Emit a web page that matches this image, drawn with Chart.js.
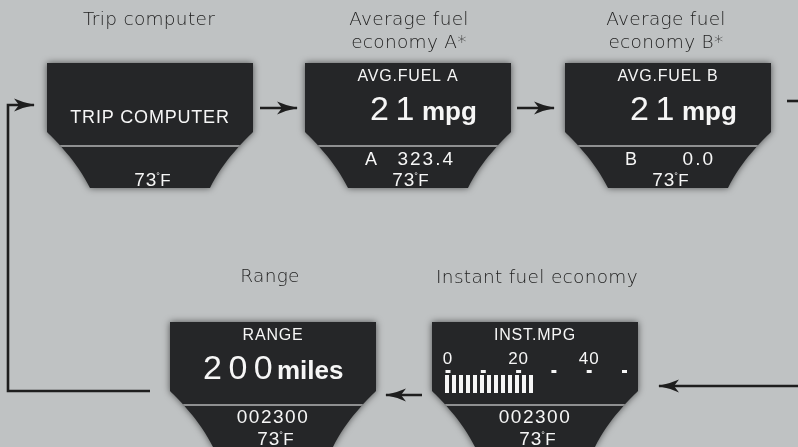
<!DOCTYPE html>
<html lang="en">
<head>
<meta charset="UTF-8">
<title>Trip computer display modes</title>
<script src="https://cdn.jsdelivr.net/npm/chart.js"></script>
<style>
    html, body { margin: 0; padding: 0; background: #bfc2c3; }
    canvas { display: block; }
</style>
</head>
<body>
<canvas id="diagram" width="798" height="447"></canvas>
<script>
    // screen contents, in display order
    const captions = [['Trip computer'], ['Average fuel', 'economy A*'], ['Average fuel', 'economy B*'], ['Range'], ['Instant fuel economy']];
    const headings = ['TRIP COMPUTER', 'AVG.FUEL A', 'AVG.FUEL B', 'RANGE', 'INST.MPG'];
    const mainValues = ['', '21', '21', '200', ''];
    const mainUnits = ['', 'mpg', 'mpg', 'miles', ''];
    const tripLabels = ['', 'A', 'B', '', ''];
    const tripValues = ['', '323.4', '0.0', '002300', '002300'];
    const outsideTemp = ['73', '73', '73', '73', '73'];
    const gaugeTicks = [0, 20, 40];
    const gaugeMarks = [0, 10, 20, 30, 40, 50];
    const instMpg = 26;

    // layout (diagram units = pixels)
    const panelLeft = [47, 305, 565, 170, 432];
    const panelTop = [63, 63, 63, 322, 322];
    const panelW = 206;
    const valueOffset = [0, 65, 65, 33, 0];
    const unitOffset = [0, 117, 117, 107, 0];
    const captionX = [149, 409, 666, 270, 537];
    const captionY = [25, 25, 25, 282, 283];

    const flowLines = [
        { pts: [[150, 391], [8, 391], [8, 105], [34, 105]], head: true },
        { pts: [[260, 108], [297, 108]], head: true },
        { pts: [[517, 108], [554, 108]], head: true },
        { pts: [[787, 101], [798, 101]], head: false },
        { pts: [[798, 386], [659, 386]], head: true },
        { pts: [[422, 395], [386, 395]], head: true }
    ];

    const PANEL_FONT = "'Liberation Sans', Arial, sans-serif";
    const CAPTION_FONT = "'DejaVu Sans', sans-serif";

    function panelPath(ctx, x, y, w) {
        ctx.beginPath();
        ctx.moveTo(x, y);
        ctx.lineTo(x + w, y);
        ctx.lineTo(x + w, y + 69);
        ctx.bezierCurveTo(x + w - 8, y + 77, x + w - 30, y + 98, x + w - 43, y + 125);
        ctx.lineTo(x + 43, y + 125);
        ctx.bezierCurveTo(x + 30, y + 98, x + 8, y + 77, x, y + 69);
        ctx.closePath();
    }

    function txt(ctx, s, x, y, font, align, spacing) {
        ctx.font = font;
        ctx.textAlign = align || 'left';
        ctx.letterSpacing = (spacing || 0) + 'px';
        ctx.fillText(s, x, y);
        ctx.letterSpacing = '0px';
    }

    function drawTemp(ctx, t, cx, base) {
        ctx.font = '19px ' + PANEL_FONT;
        ctx.letterSpacing = '1px';
        const w1 = ctx.measureText(t).width;
        ctx.font = '17px ' + PANEL_FONT;
        const w2 = ctx.measureText('F').width;
        let x = cx - (w1 + 3 + w2) / 2;
        txt(ctx, t, x, base, '19px ' + PANEL_FONT, 'left', 1);
        txt(ctx, '°', x + w1 - 1, base - 7, '9px ' + PANEL_FONT);
        txt(ctx, 'F', x + w1 + 3, base, '17px ' + PANEL_FONT);
    }

    const diagramPlugin = {
        id: 'diagram',
        beforeDraw(chart) {
            const ctx = chart.ctx;
            ctx.save();
            ctx.fillStyle = '#bfc2c3';
            ctx.fillRect(0, 0, chart.width, chart.height);
            ctx.restore();
        },
        beforeDatasetsDraw(chart) {
            const ctx = chart.ctx;
            const sx = chart.scales.x, sy = chart.scales.y;
            ctx.save();
            ctx.textBaseline = 'alphabetic';

            // captions above each screen
            ctx.fillStyle = '#1f1f1f';
            captions.forEach((lines, i) => {
                lines.forEach((line, j) => {
                    txt(ctx, line, sx.getPixelForValue(captionX[i]), sy.getPixelForValue(captionY[i] + j * 23), '200 18.5px ' + CAPTION_FONT, 'center', 0.3);
                });
            });

            for (let i = 0; i < headings.length; i++) {
                const px = sx.getPixelForValue(panelLeft[i]);
                const py = sy.getPixelForValue(panelTop[i]);

                ctx.save();
                ctx.shadowColor = 'rgba(0,0,0,0.6)';
                ctx.shadowBlur = 7;
                ctx.fillStyle = '#252628';
                panelPath(ctx, px, py, panelW);
                ctx.fill();
                ctx.restore();

                ctx.save();
                panelPath(ctx, px, py, panelW);
                ctx.clip();
                ctx.strokeStyle = '#b3b4b5';
                ctx.lineWidth = 1.6;
                ctx.beginPath();
                ctx.moveTo(px, py + 83);
                ctx.lineTo(px + panelW, py + 83);
                ctx.stroke();

                ctx.fillStyle = '#f6f6f6';
                if (i === 0) {
                    txt(ctx, headings[i], px + 103, py + 60, '18px ' + PANEL_FONT, 'center', 0.8);
                } else {
                    txt(ctx, headings[i], px + 103, py + 18, '16px ' + PANEL_FONT, 'center', 0.8);
                }
                if (mainValues[i]) {
                    txt(ctx, mainValues[i], px + valueOffset[i], py + 57, '34px ' + PANEL_FONT, 'left', 6.5);
                    txt(ctx, mainUnits[i], px + unitOffset[i], py + 57, 'bold 26px ' + PANEL_FONT, 'left', 0);
                }
                if (tripLabels[i]) {
                    txt(ctx, tripLabels[i], px + 60, py + 102, '18px ' + PANEL_FONT, 'left');
                    txt(ctx, tripValues[i], px + 150, py + 102, '19px ' + PANEL_FONT, 'right', 2);
                } else if (tripValues[i]) {
                    txt(ctx, tripValues[i], px + 103, py + 101, '19px ' + PANEL_FONT, 'center', 1.5);
                }
                drawTemp(ctx, outsideTemp[i], px + 106, py + 123);

                if (headings[i] === 'INST.MPG') {
                    const g0 = px + 16, perTen = 35.3;
                    gaugeTicks.forEach(t => {
                        txt(ctx, String(t), g0 + t / 10 * perTen, py + 42, '17px ' + PANEL_FONT, 'center', 1);
                    });
                    gaugeMarks.forEach(m => {
                        ctx.fillRect(g0 + m / 10 * perTen - 2.5, py + 48, 5, 3);
                    });
                    const bars = Math.round(instMpg / 2);
                    for (let b = 0; b < bars; b++) {
                        ctx.fillRect(g0 - 3 + b * 7, py + 53, 4, 18);
                    }
                }
                ctx.restore();
            }
            ctx.restore();
        },
        afterDatasetsDraw(chart) {
            const ctx = chart.ctx;
            ctx.save();
            ctx.fillStyle = '#1e1e1e';
            chart.data.datasets.forEach((ds, i) => {
                if (!flowLines[i].head) return;
                const pts = chart.getDatasetMeta(i).data;
                const a = pts[pts.length - 2], b = pts[pts.length - 1];
                const ang = Math.atan2(b.y - a.y, b.x - a.x);
                ctx.save();
                ctx.translate(b.x, b.y);
                ctx.rotate(ang);
                ctx.beginPath();
                ctx.moveTo(1, 0);
                ctx.quadraticCurveTo(-10, -2, -20, -6.5);
                ctx.lineTo(-15, 0);
                ctx.lineTo(-20, 6.5);
                ctx.quadraticCurveTo(-10, 2, 1, 0);
                ctx.closePath();
                ctx.fill();
                ctx.restore();
            });
            ctx.restore();
        }
    };

    new Chart(document.getElementById('diagram'), {
        type: 'scatter',
        data: {
            datasets: flowLines.map(f => ({
                data: f.pts.map(p => ({ x: p[0], y: p[1] })),
                showLine: true,
                borderColor: '#1e1e1e',
                borderWidth: 2.6,
                pointRadius: 0,
                borderCapStyle: 'butt',
                borderJoinStyle: 'miter',
                clip: false
            }))
        },
        options: {
            responsive: false,
            animation: false,
            events: [],
            layout: { padding: 0 },
            plugins: { legend: { display: false }, tooltip: { enabled: false } },
            scales: {
                x: { type: 'linear', min: 0, max: 798, display: false },
                y: { type: 'linear', min: 0, max: 447, reverse: true, display: false }
            }
        },
        plugins: [diagramPlugin]
    });
</script>
</body>
</html>
